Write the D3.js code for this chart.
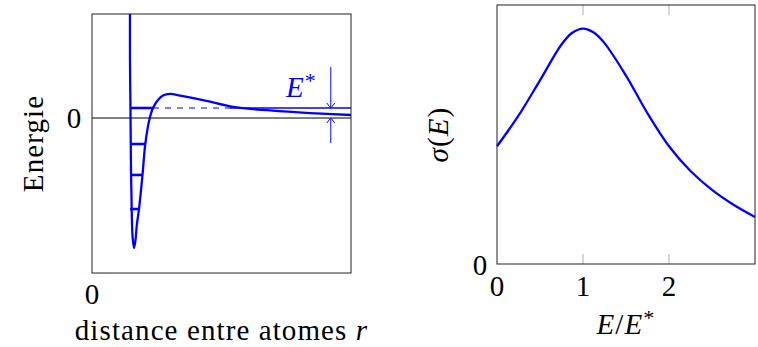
<!DOCTYPE html>
<html>
<head>
<meta charset="utf-8">
<script src="https://cdn.jsdelivr.net/npm/d3@7"></script>
<style>
  body { margin: 0; background: #fff; }
  text { font-family: "Liberation Serif", "DejaVu Serif", serif; }
</style>
</head>
<body>
<div id="chart"></div>
<script>
// left panel: potential energy vs distance (arbitrary units)
const potR = [1.467, 1.467, 1.486, 1.506, 1.537, 1.568, 1.622, 1.68, 1.73, 1.815, 1.95, 2.058, 2.212, 2.355, 2.548, 2.741, 3.012, 3.398, 4.286, 5.598, 6.873, 8.417, 10];
const potE = [0.9, 0.446, 0.062, -0.4, -0.746, -0.915, -1.0, -0.938, -0.823, -0.7, -0.438, -0.2, -0.015, 0.077, 0.138, 0.173, 0.185, 0.173, 0.138, 0.081, 0.058, 0.038, 0.023];
const levelE = [0.077, -0.2, -0.438, -0.7];
const levelStart = [1.47, 1.47, 1.47, 1.47];
const levelEnd = [2.355, 2.058, 1.95, 1.815];
const eStar = 0.077;
const dashEnd = 5.3;
const arrowR = 9.22;
const arrowTop = 0.392;
const arrowBottom = -0.192;

// right panel: cross section vs E/E*
const sigX = [0, 0.25, 0.5, 0.75, 0.875, 1, 1.125, 1.25, 1.5, 1.75, 2, 2.25, 2.5, 2.75, 3];
const sigY = [0.5, 0.63, 0.78, 0.932, 0.982, 1.0, 0.983, 0.938, 0.8, 0.64, 0.5, 0.395, 0.315, 0.252, 0.2];
const sigTicks = [0, 1, 2];

const blue = "#0000ff";
const fs = 29;
const ls = "1.1px";

const svg = d3.select("#chart").append("svg")
    .attr("width", 758)
    .attr("height", 347);

// ---------- left panel ----------
const xL = d3.scaleLinear().domain([0, 10]).range([92, 351]);
const yL = d3.scaleLinear().domain([-1.192, 0.8]).range([273, 14]);

svg.append("clipPath").attr("id", "clipL")
    .append("rect")
    .attr("x", xL(0)).attr("y", yL(0.8))
    .attr("width", xL(10) - xL(0)).attr("height", yL(-1.192) - yL(0.8));

const left = svg.append("g");

// zero line
left.append("line")
    .attr("x1", xL(0)).attr("x2", xL(10))
    .attr("y1", yL(0)).attr("y2", yL(0))
    .attr("stroke", "#000").attr("stroke-width", 1);

const gL = left.append("g").attr("clip-path", "url(#clipL)");

// E* reference (dashed then thin solid)
gL.append("line")
    .attr("x1", xL(levelEnd[0])).attr("x2", xL(dashEnd))
    .attr("y1", yL(eStar)).attr("y2", yL(eStar))
    .attr("stroke", blue).attr("stroke-width", 1.2)
    .attr("stroke-dasharray", "6,6");
gL.append("line")
    .attr("x1", xL(dashEnd)).attr("x2", xL(10))
    .attr("y1", yL(eStar)).attr("y2", yL(eStar))
    .attr("stroke", blue).attr("stroke-width", 1.3);

// energy levels
gL.selectAll(".level")
    .data(levelE)
    .enter().append("line")
    .attr("class", "level")
    .attr("x1", (d, i) => xL(levelStart[i]))
    .attr("x2", (d, i) => xL(levelEnd[i]))
    .attr("y1", d => yL(d)).attr("y2", d => yL(d))
    .attr("stroke", blue).attr("stroke-width", 2.6);

const potLine = d3.line()
    .x((d, i) => xL(potR[i]))
    .y(d => yL(d))
    .curve(d3.curveCatmullRom.alpha(0.5));

gL.append("path")
    .datum(potE)
    .attr("d", potLine)
    .attr("fill", "none")
    .attr("stroke", blue)
    .attr("stroke-width", 2.3);

// box
left.append("rect")
    .attr("x", xL(0)).attr("y", yL(0.8))
    .attr("width", xL(10) - xL(0)).attr("height", yL(-1.192) - yL(0.8))
    .attr("fill", "none").attr("stroke", "#222").attr("stroke-width", 1);

// arrows for E*
const defs = svg.append("defs");
defs.append("marker")
    .attr("id", "tip")
    .attr("viewBox", "-6 -5 7 10")
    .attr("markerWidth", 7).attr("markerHeight", 10)
    .attr("markerUnits", "userSpaceOnUse")
    .attr("refX", 0).attr("refY", 0)
    .attr("orient", "auto")
    .append("path")
    .attr("d", "M-5,-4 Q-1,-1 0,0 Q-1,1 -5,4")
    .attr("fill", "none").attr("stroke", blue).attr("stroke-width", 1);

left.append("line")
    .attr("x1", xL(arrowR)).attr("x2", xL(arrowR))
    .attr("y1", yL(arrowTop)).attr("y2", yL(eStar))
    .attr("stroke", blue).attr("stroke-width", 1)
    .attr("marker-end", "url(#tip)");
left.append("line")
    .attr("x1", xL(arrowR)).attr("x2", xL(arrowR))
    .attr("y1", yL(arrowBottom)).attr("y2", yL(0))
    .attr("stroke", blue).attr("stroke-width", 1)
    .attr("marker-end", "url(#tip)");

const eLab = left.append("text")
    .attr("x", 286).attr("y", 97)
    .attr("fill", blue)
    .style("font-size", fs + "px");
eLab.append("tspan").style("font-style", "italic").text("E");
eLab.append("tspan").attr("dy", -9).attr("dx", 1).style("font-size", "22px").text("*");

// tick labels and axis titles
left.append("text")
    .attr("x", xL(0) - 18).attr("y", yL(0))
    .attr("text-anchor", "middle").attr("dominant-baseline", "central")
    .style("font-size", fs + "px").text("0");
left.append("text")
    .attr("x", xL(0)).attr("y", 304)
    .attr("text-anchor", "middle")
    .style("font-size", fs + "px").text("0");

const xTitle = left.append("text")
    .attr("x", (xL(0) + xL(10)) / 2).attr("y", 340)
    .attr("text-anchor", "middle")
    .style("letter-spacing", ls)
    .style("font-size", fs + "px");
xTitle.append("tspan").text("distance entre atomes ");
xTitle.append("tspan").style("font-style", "italic").text("r");

left.append("text")
    .attr("transform", "translate(43," + (yL(0.8) + yL(-1.192)) / 2 + ") rotate(-90)")
    .attr("text-anchor", "middle")
    .style("letter-spacing", ls)
    .style("font-size", fs + "px").text("Energie");

// ---------- right panel ----------
const xR = d3.scaleLinear().domain([0, 3]).range([497, 755]);
const yR = d3.scaleLinear().domain([0, 1.1]).range([264, 5]);

const right = svg.append("g");

// inner ticks, top and bottom
right.selectAll(".tickB")
    .data(sigTicks.slice(1))
    .enter().append("line")
    .attr("x1", d => xR(d)).attr("x2", d => xR(d))
    .attr("y1", yR(0)).attr("y2", yR(0) - 10)
    .attr("stroke", "#bbb").attr("stroke-width", 1.2);
right.selectAll(".tickT")
    .data(sigTicks.slice(1))
    .enter().append("line")
    .attr("x1", d => xR(d)).attr("x2", d => xR(d))
    .attr("y1", yR(1.1)).attr("y2", yR(1.1) + 10)
    .attr("stroke", "#bbb").attr("stroke-width", 1.2);

const sigLine = d3.line()
    .x((d, i) => xR(sigX[i]))
    .y(d => yR(d))
    .curve(d3.curveCatmullRom.alpha(0.5));

right.append("path")
    .datum(sigY)
    .attr("d", sigLine)
    .attr("fill", "none")
    .attr("stroke", blue)
    .attr("stroke-width", 2.3);

right.append("rect")
    .attr("x", xR(0)).attr("y", yR(1.1))
    .attr("width", xR(3) - xR(0)).attr("height", yR(0) - yR(1.1))
    .attr("fill", "none").attr("stroke", "#222").attr("stroke-width", 1);

right.selectAll(".xlab")
    .data(sigTicks)
    .enter().append("text")
    .attr("x", d => xR(d)).attr("y", 296)
    .attr("text-anchor", "middle")
    .style("font-size", fs + "px")
    .text(d => d);

right.append("text")
    .attr("x", xR(0) - 17).attr("y", yR(0) + 1)
    .attr("text-anchor", "middle").attr("dominant-baseline", "central")
    .style("font-size", fs + "px").text("0");

const rx = right.append("text")
    .attr("x", (xR(0) + xR(3)) / 2).attr("y", 334)
    .attr("text-anchor", "middle")
    .style("letter-spacing", ls)
    .style("font-size", fs + "px");
rx.append("tspan").style("font-style", "italic").text("E");
rx.append("tspan").text("/");
rx.append("tspan").style("font-style", "italic").text("E");
rx.append("tspan").attr("dy", -9).style("font-size", "22px").text("*");

const ry = right.append("text")
    .attr("transform", "translate(448," + (yR(0) + yR(1.1)) / 2 + ") rotate(-90)")
    .attr("text-anchor", "middle")
    .style("letter-spacing", ls)
    .style("font-size", fs + "px");
ry.append("tspan").style("font-style", "italic").text("σ");
ry.append("tspan").text("(");
ry.append("tspan").style("font-style", "italic").text("E");
ry.append("tspan").text(")");
</script>
</body>
</html>
